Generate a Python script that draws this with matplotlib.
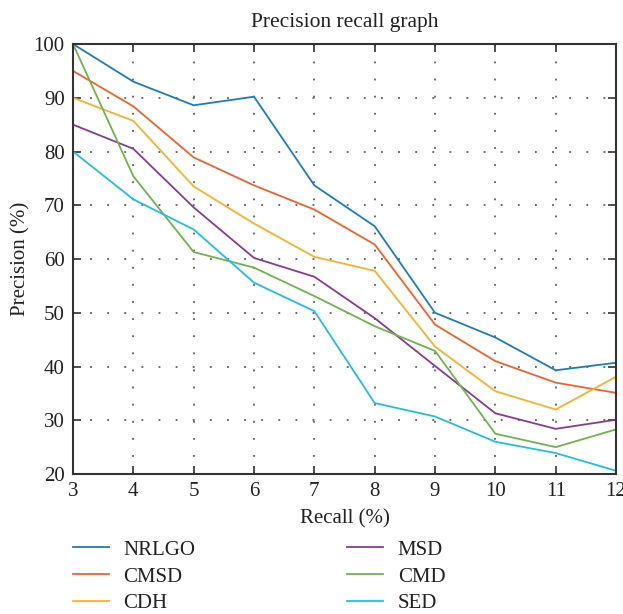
import numpy as np
import matplotlib.pyplot as plt

# Recall levels (%) on the x axis
recall = [3, 4, 5, 6, 7, 8, 9, 10, 11, 12]

# Precision (%) for each method
nrlgo = [100, 93.0, 88.6, 90.2, 73.7, 66.1, 50.0, 45.4, 39.3, 40.7]
cmsd = [95, 88.4, 78.9, 73.7, 69.2, 62.7, 47.8, 41.0, 37.0, 35.1]
cdh = [90, 85.7, 73.5, 66.6, 60.4, 57.8, 43.7, 35.4, 32.0, 38.1]
msd = [85, 80.5, 69.6, 60.2, 56.7, 49.0, 40.1, 31.3, 28.4, 30.1]
cmd = [100, 75.4, 61.3, 58.4, 53.1, 47.5, 42.9, 27.5, 25.0, 28.3]
sed = [80, 71.1, 65.5, 55.6, 50.3, 33.2, 30.7, 26.0, 23.9, 20.6]

names = ['NRLGO', 'CMSD', 'CDH', 'MSD', 'CMD', 'SED']
series = [nrlgo, cmsd, cdh, msd, cmd, sed]
colors = ['#1a7dc4', '#f4622a', '#fbb12a', '#8a3a96', '#6cb64a', '#1ec0ea']

plt.rcParams['font.family'] = ['Liberation Serif', 'DejaVu Serif']
plt.rcParams['font.size'] = 15

fig = plt.figure(figsize=(6.23, 6.14), dpi=100)
ax = fig.add_axes([0.1172, 0.228, 0.8716, 0.7003])

for name, vals, c in zip(names, series, colors):
    ax.plot(recall, vals, color=c, linewidth=1.3, label=name)

ax.set_xlim(3, 12)
ax.set_ylim(20, 100)
ax.set_xticks(recall)
ax.set_yticks(np.arange(20, 101, 10))

ax.grid(True, linestyle=(0, (1.2, 10)), color='#444444', linewidth=1.1)
ax.tick_params(direction='in', length=6, width=1.2, top=True, right=True,
               colors='#333333', labelcolor='#222222', pad=6)
for s in ax.spines.values():
    s.set_linewidth(1.5)
    s.set_color('#333333')

ax.set_title('Precision recall graph', fontsize=15.5, pad=12, color='#222222')
ax.set_xlabel('Recall (%)', labelpad=6, color='#222222')
ax.set_ylabel('Precision (%)', labelpad=2, color='#222222')

fig.legend(loc='upper left', bbox_to_anchor=(0.103, 0.134), ncol=2,
           frameon=False, handlelength=1.75, handletextpad=0.7,
           columnspacing=7.25, labelspacing=0.35, fontsize=15,
           borderaxespad=0, labelcolor='#222222')

fig.savefig('out.png', dpi=100)
